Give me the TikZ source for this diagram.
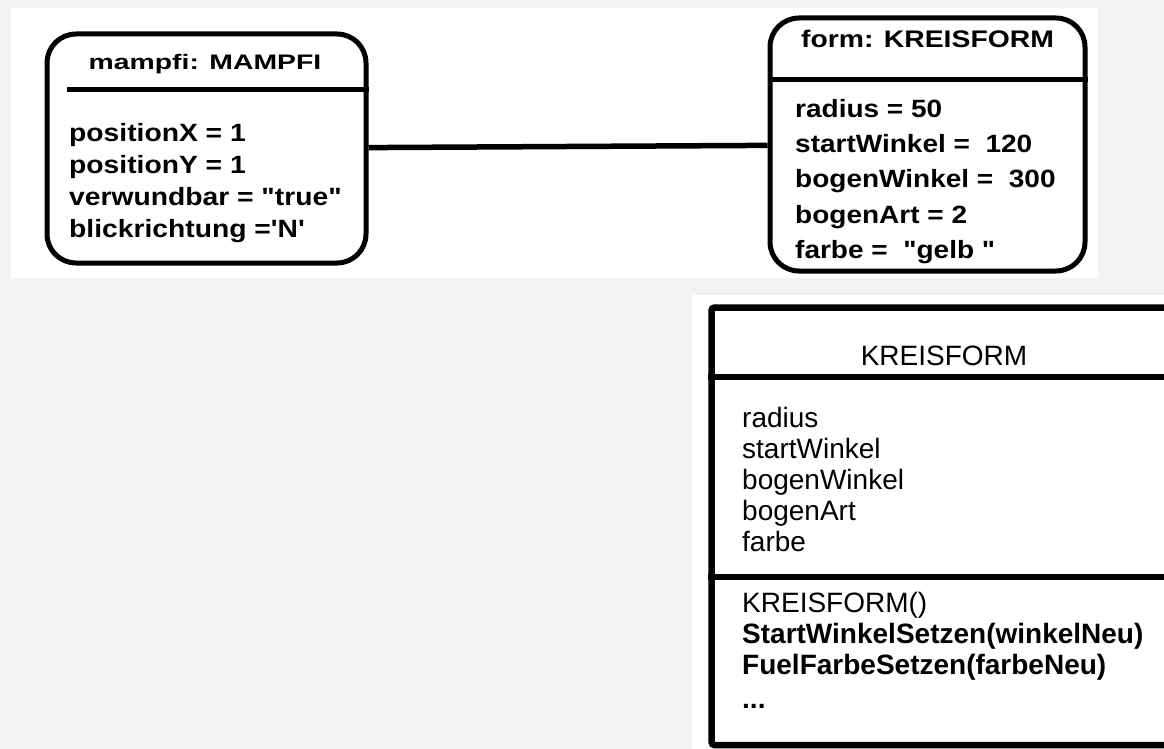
\documentclass[tikz,border=0pt]{standalone}
\usepackage{fontspec}
\usepackage{graphicx}
\newfontfamily\umlfont{Liberation Sans}
\definecolor{pagegray}{HTML}{F2F2F2}
\newcommand{\wider}[2]{\scalebox{#1}[1]{#2}}
\begin{document}
\begin{tikzpicture}[x=1pt,y=-1pt,
  panel/.style={fill=white,draw=none},
  objbox/.style={draw=black,fill=white,line width=5pt,rounded corners=29pt,inner sep=0pt},
  classbox/.style={draw=black,fill=white,line width=6.5pt,rounded corners=3pt,inner sep=0pt},
  rule/.style={line width=5pt},
  thickrule/.style={line width=6pt},
  link/.style={line width=5.5pt},
  txt/.style={inner sep=0pt,text=black}
]
\useasboundingbox (0,0) rectangle (1164,749);
\clip (0,0) rectangle (1164,749);
\fill[pagegray] (0,0) rectangle (1164,749);

% white sheets behind the two parts
\fill[panel] (11,8) rectangle (1098,278);
\fill[panel] (692,295) rectangle (1164,749);

% object mampfi
\node[objbox,minimum width=319pt,minimum height=229pt] (mampfi) at (206.5,148.5) {};
\draw[rule] (67,90) -- (mampfi.east |- 0,90);
\node[txt,anchor=base,font=\umlfont\bfseries\fontsize{21}{25}\selectfont] (mtitle) at (205,70)
  {\wider{1.35}{mampfi: MAMPFI}};
\node[txt,anchor=base west,font=\umlfont\bfseries\fontsize{25}{32}\selectfont] (mattr) at (69,142)
  {\wider{1.13}{\begin{tabular}[t]{@{}l@{}}
    positionX = 1\\
    positionY = 1\\
    verwundbar = "true"\\
    blickrichtung ='N'
  \end{tabular}}};

% object form
\node[objbox,minimum width=315pt,minimum height=253pt] (form) at (927.5,144.5) {};
\draw[rule] (form.west |- 0,80) -- (form.east |- 0,80);
\node[txt,anchor=base,font=\umlfont\bfseries\fontsize{24}{28}\selectfont] (ftitle) at (927.5,48)
  {\wider{1.18}{form: KREISFORM}};
\node[txt,anchor=base west,font=\umlfont\bfseries\fontsize{25}{35}\selectfont] (fattr) at (795,118)
  {\wider{1.12}{\begin{tabular}[t]{@{}l@{}}
    radius = 50\\
    startWinkel =\ \ 120\\
    bogenWinkel =\ \ 300\\
    bogenArt = 2\\
    farbe =\ \ "gelb "
  \end{tabular}}};

% link between the two objects
\draw[link] (mampfi) -- (form);

% class KREISFORM
\node[classbox,minimum width=490pt,minimum height=437.5pt] (kclass) at (956.5,526.25) {};
\draw[thickrule] (kclass.west |- 0,376.5) -- (kclass.east |- 0,376.5);
\draw[thickrule] (kclass.west |- 0,576.5) -- (kclass.east |- 0,576.5);
\node[txt,anchor=base,font=\umlfont\fontsize{28}{31}\selectfont] (ktitle) at (944,365) {KREISFORM};
\node[txt,anchor=base west,font=\umlfont\fontsize{28}{31}\selectfont] (kattr) at (742,427)
  {\begin{tabular}[t]{@{}l@{}}
    radius\\
    startWinkel\\
    bogenWinkel\\
    bogenArt\\
    farbe
  \end{tabular}};
\node[txt,anchor=base west,font=\umlfont\fontsize{28}{31}\selectfont] (kmeth) at (742,612)
  {\begin{tabular}[t]{@{}l@{}}
    KREISFORM()\\
    \bfseries StartWinkelSetzen(winkelNeu)\\
    \bfseries FuelFarbeSetzen(farbeNeu)\\[3pt]
    \bfseries ...
  \end{tabular}};
\end{tikzpicture}
\end{document}
